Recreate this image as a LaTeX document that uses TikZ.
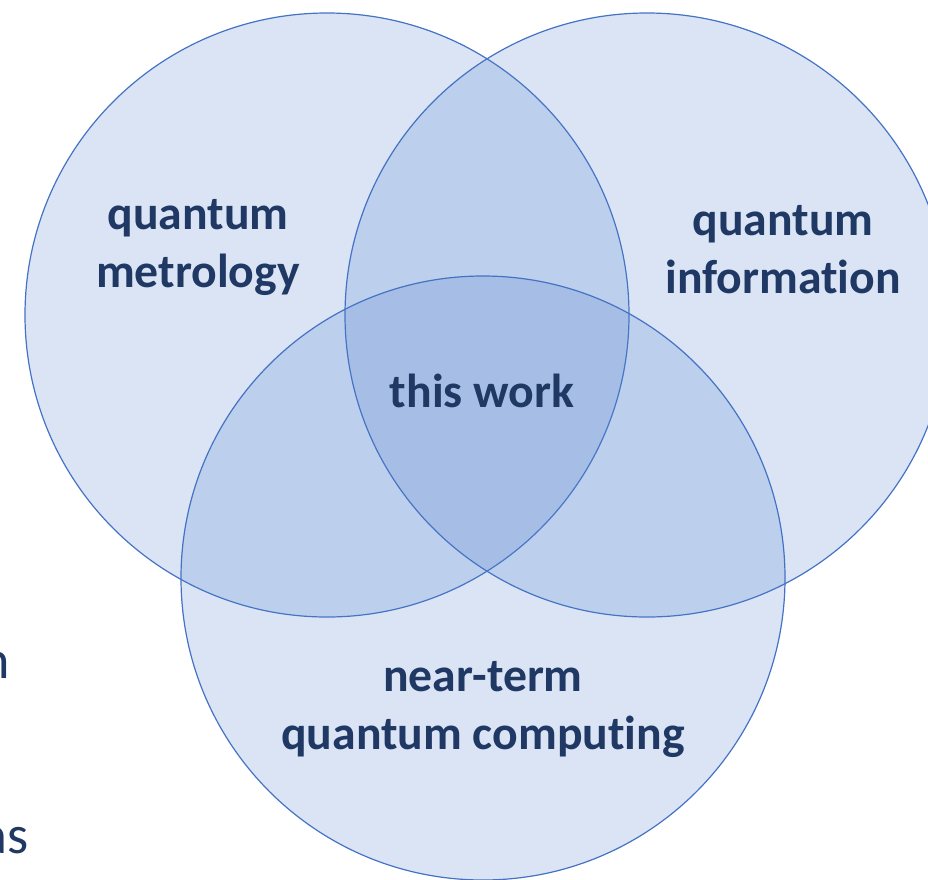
\documentclass[tikz,border=0pt]{standalone}
\usepackage{fontspec}
\setmainfont[Ligatures=NoCommon]{Carlito}
\begin{document}
\begin{tikzpicture}[x=1pt,y=-1pt,
  setcircle/.style={draw=ringblue, line width=1.2pt, fill=setfill, fill opacity=0.21},
  setlabel/.style={text=labelnavy, font=\fontsize{47.7}{58}\selectfont\bfseries, align=center, inner sep=0pt},
  edgetext/.style={text=labelnavy, font=\fontsize{54}{60}\selectfont, inner sep=0pt, anchor=base east}]
  \definecolor{ringblue}{HTML}{4472C4}
  \definecolor{setfill}{RGB}{80,128,204}
  \definecolor{labelnavy}{HTML}{1F3864}
  \useasboundingbox (0,0) rectangle (928,879);
  % three overlapping sets
  \draw[setcircle] (327,315) circle (302);
  \draw[setcircle] (647,315) circle (302);
  \draw[setcircle] (483,578) circle (302);
  % set labels (base anchor sits on the last line)
  \node[setlabel, anchor=base] (metro) at (198,287) {quantum\\metrology};
  \node[setlabel, anchor=base] (info) at (783,293) {quantum\\information};
  \node[setlabel, anchor=base] (work) at (482,407) {this work};
  \node[setlabel, anchor=base] (nisq) at (483,749) {near-term\\quantum computing};
  % text running in from the left
  \node[edgetext] (fragA) at (10,678) {n};
  \node[edgetext] (fragB) at (29,853) {as};
\end{tikzpicture}
\end{document}
